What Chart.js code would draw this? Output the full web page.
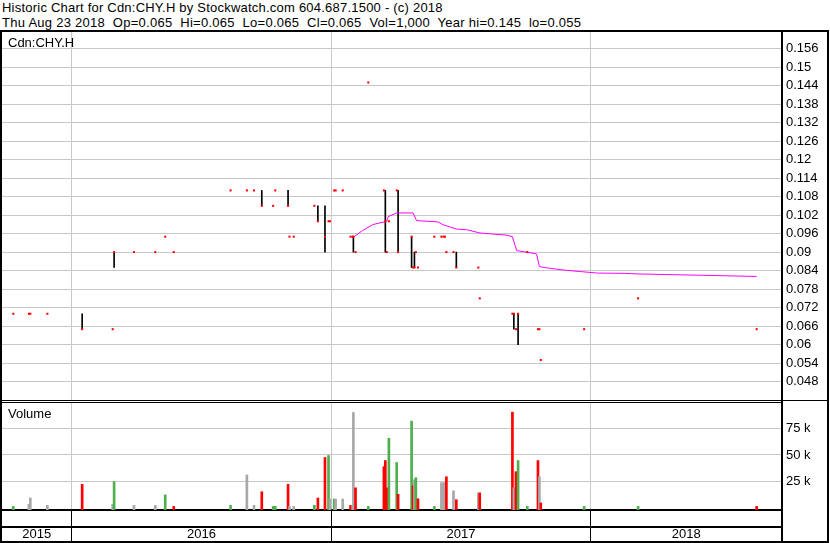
<!DOCTYPE html>
<html lang="en">
<head>
  <meta charset="UTF-8">
  <title>Historic Chart for Cdn:CHY.H</title>
  <script src="https://cdn.jsdelivr.net/npm/chart.js"></script>
  <style>
    body {
      margin: 0;
      width: 830px;
      height: 543px;
      position: relative;
      overflow: hidden;
      background: #fff;
      color: #000;
      font-family: 'Liberation Sans', Arial, sans-serif;
    }
    .head {
      position: absolute;
      left: 2px;
      font-size: 13px;
      line-height: 15px;
      white-space: pre;
      letter-spacing: 0.22px;
    }
    .frame {
      position: absolute;
      left: 0;
      top: 30px;
      width: 829px;
      height: 513px;
      box-sizing: border-box;
      border: 2px solid #000;
    }
    .rule {
      position: absolute;
      background: #000;
    }
    .hline {
      position: absolute;
      height: 1px;
      background: #c8c8c8;
    }
    canvas {
      position: absolute;
      left: 2px;
    }
    .tag {
      position: absolute;
      left: 8px;
      font-size: 13px;
      line-height: 15px;
    }
  </style>
</head>
<body>
  <div class="head" style="top:0">Historic Chart for Cdn:CHY.H by Stockwatch.com 604.687.1500 - (c) 2018</div>
  <div class="head" style="top:15px;letter-spacing:0.27px">Thu Aug 23 2018  Op=0.065  Hi=0.065  Lo=0.065  Cl=0.065  Vol=1,000  Year hi=0.145  lo=0.055</div>

  <div class="frame"></div>
  <canvas id="priceChart" width="825" height="368" style="top:32px"></canvas>
  <canvas id="volChart" width="825" height="138" style="top:403px"></canvas>
  <!-- panel separators and the axis column line -->
  <div class="rule" style="left:0;top:400px;width:829px;height:1px"></div>
  <div class="rule" style="left:0;top:402px;width:783px;height:1px"></div>
  <div class="rule" style="left:781px;top:30px;width:2px;height:513px"></div>

  <div class="tag" style="top:35px">Cdn:CHY.H</div>
  <div class="tag" style="top:406px">Volume</div>

  <script>
    // trading days
    const tradeDates = [
      '2015-10-11', '2015-11-02', '2015-11-04', '2015-11-28',
      '2016-01-16', '2016-02-28', '2016-03-01', '2016-03-29', '2016-04-28', '2016-05-12', '2016-05-24',
      '2016-08-12', '2016-09-04', '2016-09-14', '2016-09-25', '2016-10-11', '2016-10-14', '2016-11-01', '2016-11-03', '2016-11-09',
      '2016-12-08', '2016-12-13', '2016-12-23', '2016-12-28', '2016-12-30',
      '2017-01-05', '2017-01-07', '2017-01-17', '2017-01-28', '2017-01-31', '2017-02-01', '2017-02-04', '2017-02-22',
      '2017-03-16', '2017-03-18', '2017-03-20', '2017-03-23', '2017-04-03', '2017-04-05',
      '2017-04-24', '2017-04-26', '2017-04-28', '2017-04-30', '2017-05-03', '2017-05-26',
      '2017-06-05', '2017-06-08', '2017-06-10', '2017-06-12', '2017-06-22', '2017-06-26', '2017-07-27', '2017-07-29',
      '2017-09-13', '2017-09-15', '2017-09-18', '2017-09-21', '2017-10-04', '2017-10-19', '2017-10-21', '2017-10-23',
      '2017-12-23', '2018-03-09', '2018-08-23'
    ];
    const tradeClose = [
      0.07, 0.07, 0.07, 0.07,
      0.065, 0.065, 0.09, 0.09, 0.09, 0.095, 0.09,
      0.11, 0.11, 0.11, 0.105, 0.105, 0.11, 0.105, 0.095, 0.095,
      0.105, 0.10, 0.095, 0.10, 0.10,
      0.11, 0.11, 0.11, 0.095, 0.095, 0.095, 0.09, 0.145,
      0.11, 0.10, 0.09, 0.10, 0.11, 0.09,
      0.095, 0.085, 0.085, 0.09, 0.085, 0.095,
      0.095, 0.095, 0.095, 0.09, 0.09, 0.085, 0.085, 0.075,
      0.07, 0.07, 0.065, 0.07, 0.09, 0.065, 0.065, 0.055,
      0.065, 0.075, 0.065
    ];
    const tradeVolume = [
      1000, 3000, 9000, 2000,
      22000, 3000, 24500, 2000, 2000, 12000, 1000,
      2000, 31000, 2000, 15000, 1000, 1000, 22000, 1000, 1000,
      2000, 9000, 47600, 49500, 8000,
      8000, 8000, 8000, 2000, 2000, 90500, 18700, 1000,
      38900, 44700, 18700, 65900, 42800, 12500,
      82200, 20700, 26400, 28400, 8300, 1000,
      23600, 23600, 23600, 29300, 15900, 7400, 13900, 13900,
      90800, 18700, 34100, 44700, 1000, 44700, 29300, 4300,
      1000, 1000, 1000
    ];
    // u = close up, d = close down, f = unchanged
    const tradeDir = [
      'u', 'f', 'f', 'f',
      'd', 'f', 'u', 'f', 'f', 'u', 'd',
      'u', 'f', 'f', 'd', 'u', 'u', 'd', 'f', 'f',
      'u', 'd', 'd', 'u', 'f',
      'u', 'f', 'f', 'd', 'f', 'f', 'd', 'u',
      'd', 'd', 'd', 'u', 'u', 'd',
      'u', 'd', 'f', 'u', 'd', 'u',
      'f', 'f', 'f', 'd', 'f', 'd', 'f', 'd',
      'd', 'f', 'd', 'u', 'u', 'd', 'f', 'd',
      'u', 'u', 'd'
    ];

    // days that traded over a range (high - low)
    const rangeDates = ['2016-01-16', '2016-03-01', '2016-09-25', '2016-11-01', '2016-12-13', '2016-12-23', '2017-02-01',
                        '2017-03-18', '2017-04-05', '2017-04-24', '2017-04-28', '2017-06-26', '2017-09-15', '2017-09-21'];
    const rangeHigh = [0.07, 0.09, 0.11, 0.11, 0.105, 0.105, 0.095, 0.11, 0.11, 0.095, 0.09, 0.09, 0.07, 0.07];
    const rangeLow = [0.065, 0.085, 0.105, 0.105, 0.10, 0.09, 0.09, 0.09, 0.09, 0.085, 0.085, 0.085, 0.065, 0.06];

    // moving average (magenta)
    const maDates = ['2017-02-02', '2017-02-14', '2017-02-28', '2017-03-20', '2017-03-22', '2017-04-03', '2017-04-26',
                     '2017-05-01', '2017-05-31', '2017-06-07', '2017-06-26', '2017-07-12', '2017-07-29', '2017-09-05',
                     '2017-09-13', '2017-09-19', '2017-10-05', '2017-10-17', '2017-10-21', '2017-10-31', '2017-11-23',
                     '2017-12-17', '2018-01-11', '2018-02-18', '2018-03-11', '2018-06-04', '2018-08-23'];
    const maValues = [0.0950, 0.0970, 0.0989, 0.1000, 0.1015, 0.1027, 0.1027,
                      0.1002, 0.0998, 0.0989, 0.0975, 0.0972, 0.0962, 0.0955,
                      0.0950, 0.0905, 0.0899, 0.0894, 0.0853, 0.0849, 0.0842,
                      0.0837, 0.0832, 0.0831, 0.0829, 0.0825, 0.0821];

    // axes
    const priceTicks = [0.048, 0.054, 0.06, 0.066, 0.072, 0.078, 0.084, 0.09, 0.096, 0.102,
                        0.108, 0.114, 0.12, 0.126, 0.132, 0.138, 0.144, 0.15, 0.156];
    const volTicks = [25000, 50000, 75000];
    const yearStarts = ['2016-01-01', '2017-01-01', '2018-01-01'];
    const yearLabels = ['2015', '2016', '2017', '2018'];

    const ORIGIN = Date.UTC(2016, 0, 1);
    function dayNum(s) {
      const [y, m, d] = s.split('-').map(Number);
      return (Date.UTC(y, m - 1, d) - ORIGIN) / 86400000;
    }

    // visible window, in days from 2016-01-01
    const X_MIN = -97.9, X_MAX = 1000.7;
    const VOL_MIN = -2404, VOL_MAX = 99519;
    const GRID = '#c8c8c8';
    const dirColor = { u: '#4cb04c', d: '#ff0000', f: '#a8a8a8' };

    Chart.defaults.font.family = "'Liberation Sans', Arial, sans-serif";
    Chart.defaults.font.size = 13;
    Chart.defaults.color = '#000';

    const yearGridTicks = s => { s.ticks = yearStarts.map(d => ({ value: dayNum(d) })); };
    // no label overhang padding, fixed box sizes
    const fixH = h => s => { s.height = h; s.paddingLeft = 0; s.paddingRight = 0; };
    const fixW = w => s => { s.width = w; s.paddingTop = 0; s.paddingBottom = 0; };

    // horizontal grid lines, placed under the canvas from the chart's own y scale
    function addGridLines(chart) {
      const canvas = chart.canvas;
      const top = canvas.offsetTop, left = canvas.offsetLeft;
      const { chartArea, scales: { y } } = chart;
      y.ticks.forEach(t => {
        const row = Math.round(y.getPixelForValue(t.value) - 0.5);
        const el = document.createElement('div');
        el.className = 'hline';
        el.style.top = (top + row) + 'px';
        el.style.left = (left + chartArea.left) + 'px';
        el.style.width = (chartArea.right - chartArea.left) + 'px';
        document.body.insertBefore(el, canvas);
      });
    }

    const priceChart = new Chart(document.getElementById('priceChart'), {
      type: 'bar',
      data: {
        datasets: [{
          type: 'line',
          showLine: false,
          data: tradeDates.map((d, i) => ({ x: dayNum(d), y: tradeClose[i] })),
          pointStyle: 'rect',
          pointRadius: 1.45,
          pointBorderWidth: 0,
          pointBackgroundColor: '#ff0000',
          order: 0
        }, {
          type: 'line',
          data: maDates.map((d, i) => ({ x: dayNum(d), y: maValues[i] })),
          borderColor: '#ff00ff',
          borderWidth: 1,
          pointRadius: 0,
          tension: 0,
          order: 1
        }, {
          type: 'bar',
          data: rangeDates.map((d, i) => ({ x: dayNum(d), y: [rangeLow[i], rangeHigh[i]] })),
          backgroundColor: '#000',
          barThickness: 1,
          order: 2
        }]
      },
      options: {
        responsive: false,
        animation: false,
        devicePixelRatio: 1,
        layout: { padding: 0, autoPadding: false },
        plugins: { legend: { display: false }, tooltip: { enabled: false } },
        scales: {
          x: {
            type: 'linear', min: X_MIN, max: X_MAX, offset: false,
            afterBuildTicks: yearGridTicks,
            afterFit: fixH(0),
            ticks: { display: false },
            grid: { color: GRID, drawTicks: false, offset: false },
            border: { display: false }
          },
          y: {
            position: 'right', min: 0.042032, max: 0.161384,
            afterBuildTicks: s => { s.ticks = priceTicks.map(v => ({ value: v })); },
            afterFit: fixW(45),
            ticks: { padding: 4, callback: v => String(v) },
            grid: { display: false, drawTicks: false },
            border: { display: false }
          }
        }
      }
    });

    const volChart = new Chart(document.getElementById('volChart'), {
      type: 'bar',
      data: {
        datasets: [{
          data: tradeDates.map((d, i) => ({ x: dayNum(d), y: tradeVolume[i] })),
          backgroundColor: tradeDir.map(c => dirColor[c]),
          barThickness: 2,
          base: VOL_MIN
        }]
      },
      options: {
        responsive: false,
        animation: false,
        devicePixelRatio: 1,
        layout: { padding: 0, autoPadding: false },
        plugins: { legend: { display: false }, tooltip: { enabled: false } },
        scales: {
          x: {
            type: 'linear', min: X_MIN, max: X_MAX, offset: false, weight: 0,
            afterBuildTicks: yearGridTicks,
            afterFit: fixH(17),
            ticks: { display: false },
            grid: { color: GRID, tickColor: '#000', tickLength: 31, offset: false },
            border: { color: '#000', width: 2 }
          },
          xYear: {
            type: 'linear', position: 'bottom', min: X_MIN, max: X_MAX, offset: false, weight: 1,
            afterBuildTicks: s => {
              const edges = [s.min, ...yearStarts.map(dayNum), s.max];
              s.ticks = yearLabels.map((_, i) => ({ value: (edges[i] + edges[i + 1]) / 2 }));
            },
            afterFit: fixH(14),
            ticks: { padding: 0, autoSkip: false, maxRotation: 0, callback: (v, i) => yearLabels[i] },
            grid: { display: false, drawTicks: false },
            border: { color: '#000', width: 2 }
          },
          y: {
            position: 'right', min: VOL_MIN, max: VOL_MAX,
            afterBuildTicks: s => { s.ticks = volTicks.map(v => ({ value: v })); },
            afterFit: fixW(45),
            ticks: { padding: 4, callback: v => (v / 1000) + ' k' },
            grid: { display: false, drawTicks: false },
            border: { display: false }
          }
        }
      }
    });

    addGridLines(priceChart);
    addGridLines(volChart);
  </script>
</body>
</html>
